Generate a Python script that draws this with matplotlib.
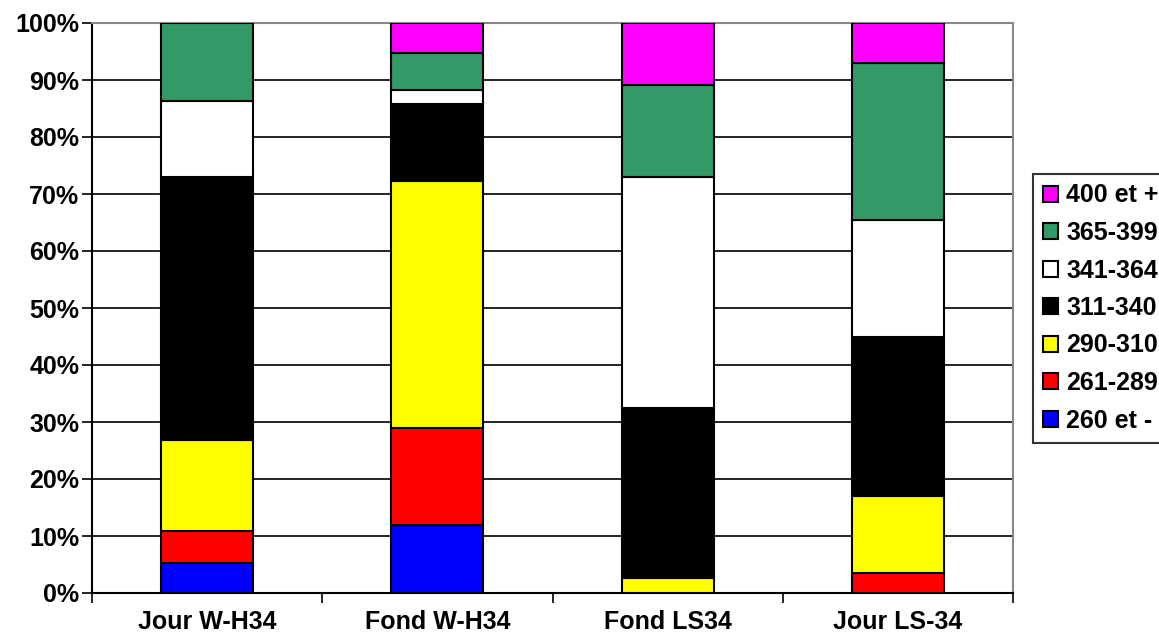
import matplotlib.pyplot as plt
from matplotlib.patches import Patch
from matplotlib.ticker import MultipleLocator, PercentFormatter
import numpy as np

plt.rcParams['font.family'] = ['Liberation Sans', 'DejaVu Sans']
plt.rcParams['font.weight'] = 'bold'

sites = ['Jour W-H34', 'Fond W-H34', 'Fond LS34', 'Jour LS-34']
classes = ['260 et -', '261-289', '290-310', '311-340', '341-364', '365-399', '400 et +']
colors = ['#0000FF', '#FF0000', '#FFFF00', '#000000', '#FFFFFF', '#339966', '#FF00FF']

# percentages per class, one list per class (order of sites)
p260 = [5.3, 12.0, 0.0, 0.0]
p261 = [5.6, 17.0, 0.0, 3.5]
p290 = [15.9, 43.3, 2.6, 13.6]
p311 = [46.2, 13.5, 29.9, 27.9]
p341 = [13.3, 2.5, 40.5, 20.4]
p365 = [13.7, 6.4, 16.1, 27.6]
p400 = [0.0, 5.3, 10.9, 7.0]

data = np.array([p260, p261, p290, p311, p341, p365, p400])
data = data / data.sum(axis=0) * 100

fig = plt.figure(figsize=(11.59, 6.4), dpi=100)
ax = fig.add_axes([92 / 1159, 47 / 640, 921 / 1159, 570 / 640])

x = np.arange(len(sites))
bottom = np.zeros(len(sites))
for i in range(len(classes)):
    vals = data[i]
    for j in range(len(sites)):
        if vals[j] > 0:
            ax.bar(x[j], vals[j], 0.4, bottom=bottom[j], color=colors[i],
                   edgecolor='black', linewidth=1.5, zorder=3)
    bottom += vals

ax.set_xlim(-0.5, 3.5)
ax.set_ylim(0, 100)
ax.yaxis.set_major_locator(MultipleLocator(10))
ax.yaxis.set_major_formatter(PercentFormatter(decimals=0))
ax.grid(axis='y', color='black', linewidth=1.2, zorder=0)

ax.set_xticks(x)
ax.set_xticklabels(sites)
ax.set_xticks(np.arange(-0.5, 4, 1), minor=True)
ax.tick_params(axis='x', which='major', length=0, pad=12, labelsize=18)
ax.tick_params(axis='x', which='minor', length=7, width=1.2, direction='out')
ax.tick_params(axis='y', length=7, width=1.2, labelsize=18, pad=2)

for s in ['top', 'right']:
    ax.spines[s].set_color('#888888')
    ax.spines[s].set_linewidth(1.5)
for s in ['left', 'bottom']:
    ax.spines[s].set_color('black')
    ax.spines[s].set_linewidth(1.5)

handles = [Patch(facecolor=colors[i], edgecolor='black', linewidth=1.5) for i in range(len(classes))][::-1]
leg = fig.legend(handles, classes[::-1], loc='center left',
                 bbox_to_anchor=(1033 / 1159, 1 - 308 / 640), bbox_transform=fig.transFigure,
                 borderaxespad=0, fontsize=18, frameon=True, fancybox=False,
                 handlelength=0.6, handleheight=0.6, handletextpad=0.32,
                 labelspacing=0.54, borderpad=0.4)
leg.get_frame().set_edgecolor('black')
leg.get_frame().set_linewidth(1.5)

fig.savefig('out.png', dpi=100)
